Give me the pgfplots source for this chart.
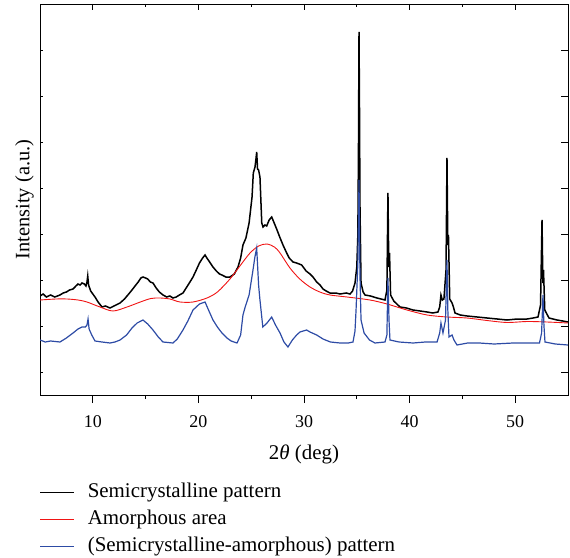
\documentclass[border=0pt]{standalone}
\usepackage{fontspec}
\setmainfont{Liberation Serif}
\usepackage{pgfplots}
\pgfplotsset{compat=1.18}
\definecolor{myblue}{RGB}{45,75,165}
\definecolor{myred}{RGB}{240,20,20}
\begin{document}
\begin{tikzpicture}
\useasboundingbox (-40bp,-163bp) rectangle (530bp,395bp);
\pgfplotsset{
  base/.style={
    width=528bp, height=391bp, scale only axis,
    xmin=5, xmax=55, ymin=0, ymax=391,
    axis line style={line width=0.9bp, black},
    tick style={line width=0.7bp, black},
    /pgf/number format/assume math mode=true,
  }
}
\begin{axis}[base,
  tick align=outside,
  xtick pos=left,
  xtick={10,20,30,40,50},
  minor xtick={15,25,35,45},
  major tick length=8bp, minor tick length=4bp,
  ytick=\empty,
  xticklabel style={font=\fontsize{18}{20}\selectfont, inner sep=0pt, anchor=north, yshift=-12bp},
  xlabel={2{\itshape θ} (deg)},
  xlabel style={font=\fontsize{21}{24}\selectfont, at={(axis description cs:0.5,0)}, anchor=base, yshift=-64bp, inner sep=0pt},
  ylabel={Intensity (a.u.)},
  ylabel style={font=\fontsize{20.5}{24}\selectfont, at={(axis description cs:-0.0114,0.5)}, anchor=south, inner sep=0pt},
  legend style={at={(axis description cs:0,-0.2225)}, anchor=north west, draw=none, fill=none,
    inner sep=0pt, outer sep=0pt, row sep=7bp, column sep=13bp,
    font=\fontsize{21}{24}\selectfont,
    nodes={inner sep=0pt, text height=15bp, text depth=5bp}},
  legend cell align=left,
  legend image code/.code={\draw[#1, line width=0.8bp] (0bp,0bp) -- (34bp,0bp);},
]
\addplot[black, line width=1.5bp] coordinates {
(5.00,99) (5.3,101) (5.6,98) (6.0,100) (6.4,98) (6.89,100) (7.2,102) (7.5,103) (7.8,105) (8.13,106) (8.4,109) (8.6,111) (8.8,110) (8.98,112) (9.2,111) (9.35,109) (9.45,113) (9.52,119) (9.6,110) (9.8,104) (10.21,98) (10.5,93) (10.87,88) (11.2,89) (11.63,87) (12.0,89) (12.58,92) (13.0,96) (13.4,101) (13.71,105) (14.0,109) (14.3,113) (14.55,117) (14.75,118) (15.0,117) (15.2,116) (15.45,113) (15.70,112) (16.0,107) (16.3,103) (16.65,100) (17.0,98) (17.3,99) (17.59,97) (17.9,98) (18.2,100) (18.54,102) (18.9,108) (19.2,113) (19.49,118) (19.8,125) (20.1,132) (20.4,137) (20.63,140) (20.8,137) (21.0,134) (21.38,128) (21.7,124) (22.0,121) (22.23,120) (22.6,118) (22.99,118) (23.4,121) (23.75,128) (24.0,137) (24.22,150) (24.5,157) (24.8,172) (25.08,198) (25.2,222) (25.36,228) (25.45,236) (25.52,243) (25.6,226) (25.7,225) (25.83,218) (26.0,172) (26.12,168) (26.3,170) (26.47,169) (26.7,175) (26.94,178) (27.1,174) (27.41,166) (27.7,158) (28.01,150) (28.36,142) (28.6,137) (28.96,133) (29.3,132) (29.78,130) (30.2,124) (30.57,121) (30.85,118) (31.2,113) (31.52,110) (31.8,106) (32.1,104) (32.46,102) (33.0,102) (33.41,101) (34.0,102) (34.36,101) (34.6,104) (34.83,112) (35.0,128) (35.1,160) (35.16,250) (35.21,363) (35.26,280) (35.3,190) (35.40,112) (35.6,103) (35.78,100) (36.3,99) (36.91,97) (37.3,96) (37.67,95) (37.85,105) (37.95,202) (38.03,128) (38.10,142) (38.2,100) (38.5,94) (39.09,88) (39.7,87) (40.32,85) (41.0,84) (41.65,83) (42.2,82) (42.69,83) (42.85,88) (42.97,100) (43.1,95) (43.25,96) (43.45,125) (43.54,237) (43.62,150) (43.68,160) (43.8,96) (44.02,92) (44.15,88) (44.30,82) (44.8,80) (45.44,79) (46.4,78) (47.33,77) (48.3,76) (49.22,75) (50.2,76) (51.12,76) (51.7,77) (52.16,78) (52.4,90) (52.54,175) (52.62,112) (52.68,125) (52.80,85) (53.2,77) (53.96,75) (54.5,74) (55.00,73)
};
\addlegendentry{Semicrystalline pattern}
\addplot[myred, line width=0.9bp, smooth] coordinates {
(5.00,95) (6.5,96) (7.56,96) (8.6,95) (9.45,93) (10.68,88) (11.91,84) (13.24,88) (14.5,93) (15.5,96.5) (16.36,97) (17.3,96) (18.26,93) (19.49,93) (20.81,97) (21.8,103) (22.99,116) (24.0,130) (24.89,142) (25.7,149) (26.47,151) (27.2,148) (27.73,142) (28.67,127) (29.6,116) (30.57,108) (31.5,103) (32.46,100) (34.07,98) (36.25,95) (37.86,91) (39.75,85) (41.65,80) (43.54,78) (45.44,77) (47.33,74.5) (49.22,72.5) (51.12,73.5) (53.01,73) (55.00,72)
};
\addlegendentry{Amorphous area}
\addplot[myblue, line width=1.2bp] coordinates {
(5.00,55) (5.5,53) (6.0,54) (6.89,53) (7.5,57) (8.13,62) (8.6,66) (8.98,68) (9.3,68) (9.45,70) (9.55,76) (9.65,66) (9.9,60) (10.21,54) (10.87,53) (11.63,52) (12.1,53) (12.58,55) (13.2,60) (13.71,67) (14.2,72) (14.75,75) (15.2,71) (15.70,65) (16.2,58) (16.65,53) (17.59,52) (18.0,56) (18.54,65) (19.0,74) (19.49,85) (20.1,91) (20.63,93) (21.0,84) (21.38,75) (21.8,68) (22.23,62) (22.7,57) (23.1,54) (23.66,52) (24.0,60) (24.22,80) (24.43,88) (24.8,100) (25.17,125) (25.35,138) (25.52,147) (25.7,110) (25.83,95) (26.1,68) (26.5,72) (26.94,78) (27.3,70) (27.73,62) (28.1,53) (28.48,48) (28.9,55) (29.3,60) (29.62,63) (30.25,65) (30.57,63) (31.2,60) (31.8,56) (32.5,53) (33.41,52) (34.2,52) (34.64,53) (34.83,64) (34.93,85) (35.1,132) (35.21,215) (35.3,120) (35.40,75) (35.69,62) (36.2,55) (36.72,52) (37.67,53) (37.85,60) (37.95,117) (38.05,75) (38.14,55) (39.0,53) (40.32,52) (41.5,53) (42.6,53) (42.85,62) (42.97,72) (43.16,62) (43.4,75) (43.54,135) (43.62,85) (43.73,58) (44.02,60) (44.2,55) (44.49,50) (45.5,52) (46.6,52) (48.0,51) (49.8,52) (51.0,52) (52.3,52) (52.5,62) (52.63,100) (52.72,70) (52.82,53) (53.8,51) (55.00,50)
};
\addlegendentry{(Semicrystalline-amorphous) pattern}
\end{axis}
% top x ticks inward
\begin{axis}[base, axis line style={draw=none},
  tick align=inside, xtick pos=right,
  xtick={10,20,30,40,50}, minor xtick={15,25,35,45},
  major tick length=6bp, minor tick length=3bp,
  xticklabels={}, ytick=\empty]
\end{axis}
% left y ticks inward (short)
\begin{axis}[base, axis line style={draw=none},
  tick align=inside, xtick=\empty, ytick pos=left,
  ytick={23,69,115,161,207,253,299,345}, yticklabels={},
  major tick length=2.5bp]
\end{axis}
% right y ticks inward
\begin{axis}[base, axis line style={draw=none},
  tick align=inside, xtick=\empty, ytick pos=right,
  ytick={23,69,115,161,207,253,299,345}, yticklabels={},
  major tick length=7bp]
\end{axis}
\end{tikzpicture}
\end{document}
